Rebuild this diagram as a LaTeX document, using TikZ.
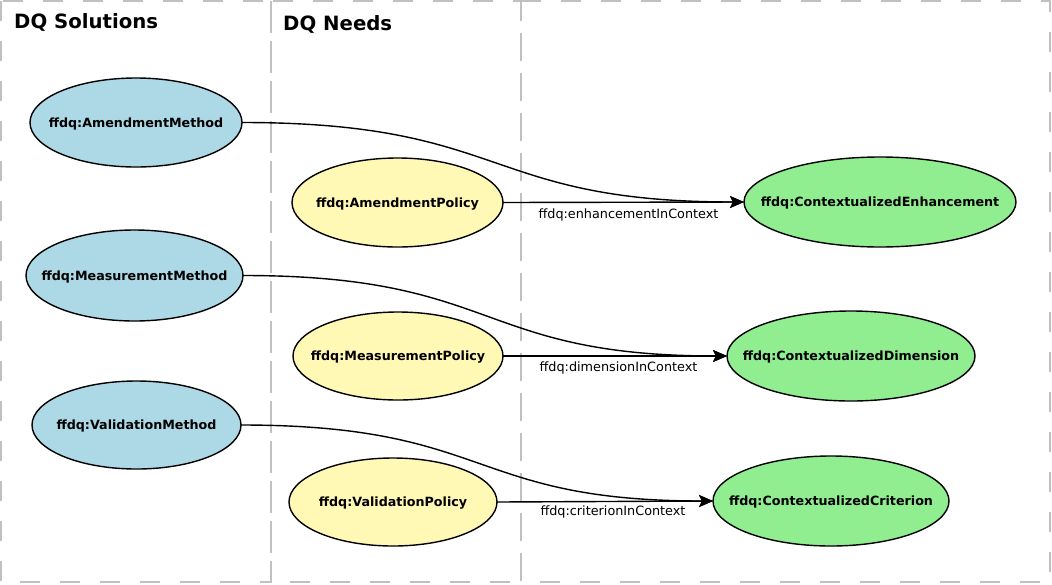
\documentclass[tikz,border=0pt]{standalone}
\usepackage{fontspec}
\usetikzlibrary{shapes.geometric,arrows.meta}
\newfontfamily\dvs{DejaVu Sans}
\definecolor{mblue}{HTML}{ADD8E6}
\definecolor{pyellow}{RGB}{255,249,181}
\definecolor{cgreen}{HTML}{90EE90}
\definecolor{clgray}{RGB}{192,192,192}
\newcommand{\ctxt}[1]{\makebox[0pt]{\raisebox{-0.36em}[0pt][0pt]{#1}}}
\begin{document}
\begin{tikzpicture}[x=1pt,y=-1pt,
  ell/.style={ellipse,draw=black,line width=1.4pt,inner sep=0pt,outer sep=0pt,
    font=\dvs\fontsize{12.7}{14}\selectfont\bfseries},
  method/.style={ell,fill=mblue},
  policy/.style={ell,fill=pyellow},
  ctx/.style={ell,fill=cgreen},
  cluster/.style={draw=clgray,line width=2pt,dash pattern=on 20pt off 20pt},
  clabel/.style={anchor=base west,inner sep=0pt,font=\dvs\fontsize{19.7}{22}\selectfont\bfseries},
  elabel/.style={inner sep=0pt,font=\dvs\fontsize{12.8}{14}\selectfont},
  edge/.style={line width=1.4pt,-{Stealth[length=14pt,width=12pt,inset=3pt]}}
]
\useasboundingbox (0,0) rectangle (1052,584);
\fill[white] (0,0) rectangle (1052,584);
% clusters
\draw[cluster] (1,1) rectangle (271,582);
\draw[cluster] (271,1) rectangle (521,582);
\draw[cluster] (521,1) rectangle (1050,582);
\node[clabel] (lsol) at (14,28) {DQ Solutions};
\node[clabel] (lneed) at (283,30) {DQ Needs};
% nodes
\node[method,minimum width=212pt,minimum height=89pt] (am) at (136,122.5) {\ctxt{ffdq:AmendmentMethod}};
\node[method,minimum width=217pt,minimum height=91pt] (mm) at (134.5,275.5) {\ctxt{ffdq:MeasurementMethod}};
\node[method,minimum width=209pt,minimum height=88pt] (vm) at (136.5,425) {\ctxt{ffdq:ValidationMethod}};
\node[policy,minimum width=211pt,minimum height=89pt] (ap) at (397.5,202.5) {\ctxt{ffdq:AmendmentPolicy}};
\node[policy,minimum width=210pt,minimum height=88pt] (mp) at (398,356) {\ctxt{ffdq:MeasurementPolicy}};
\node[policy,minimum width=208pt,minimum height=88pt] (vp) at (393,502) {\ctxt{ffdq:ValidationPolicy}};
\node[ctx,minimum width=272pt,minimum height=90pt] (ce) at (880,202) {\ctxt{ffdq:ContextualizedEnhancement}};
\node[ctx,minimum width=248pt,minimum height=90pt] (cd) at (851,356) {\ctxt{ffdq:ContextualizedDimension}};
\node[ctx,minimum width=236pt,minimum height=90pt] (cc) at (831,501) {\ctxt{ffdq:ContextualizedCriterion}};
% edges
\draw[edge] (am.east) .. controls +(268,0) and +(-262,0) .. (ce.west);
\draw[edge] (mm.east) .. controls +(258,0) and +(-252,0) .. (cd.west);
\draw[edge] (vm.east) .. controls +(252,0) and +(-246,0) .. (cc.west);
\draw[edge] (ap.east) -- (ce.west);
\draw[edge] (mp.east) -- (cd.west);
\draw[edge] (vp.east) -- (cc.west);
\node[elabel] (l1) at (628.5,215) {ffdq:enhancementInContext};
\node[elabel] (l2) at (618.5,368) {ffdq:dimensionInContext};
\node[elabel] (l3) at (613,512) {ffdq:criterionInContext};
\end{tikzpicture}
\end{document}
